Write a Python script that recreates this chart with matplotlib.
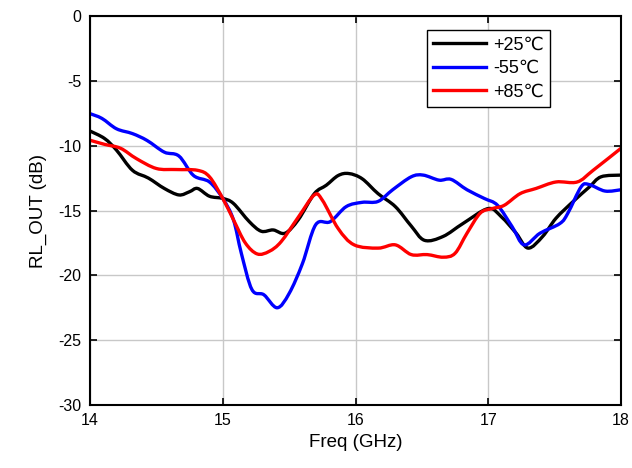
import matplotlib
matplotlib.use('Agg')
import matplotlib.pyplot as plt
from matplotlib.path import Path
from matplotlib.patches import PathPatch
from matplotlib.lines import Line2D
import numpy as np

plt.rcParams['font.family'] = ['Liberation Sans', 'DejaVu Sans']
plt.rcParams['axes.unicode_minus'] = False

# RL_OUT sweeps vs frequency at three temperatures
freq_25 = [14.0, 14.11, 14.2, 14.32, 14.44, 14.56, 14.67, 14.75, 14.81, 14.9, 15.0, 15.08,
           15.2, 15.29, 15.38, 15.47, 15.57, 15.69, 15.78, 15.87, 15.95, 16.05, 16.17,
           16.3, 16.42, 16.52, 16.66, 16.81, 17.0, 17.1, 17.21, 17.3, 17.41, 17.51,
           17.64, 17.76, 17.85, 18.0]
rl_25 = [-8.87, -9.45, -10.35, -11.9, -12.5, -13.3, -13.8, -13.55, -13.3, -13.9, -14.07,
         -14.45, -15.86, -16.6, -16.5, -16.75, -15.7, -13.7, -13.05, -12.3, -12.15, -12.55,
         -13.7, -14.7, -16.2, -17.3, -17.0, -16.0, -14.85, -15.5, -16.75, -17.9, -17.0,
         -15.6, -14.3, -13.2, -12.4, -12.27]

freq_m55 = [14.0, 14.09, 14.2, 14.32, 14.43, 14.56, 14.67, 14.78, 14.9, 15.0, 15.08, 15.14,
            15.22, 15.31, 15.41, 15.5, 15.6, 15.7, 15.81, 15.93, 16.05, 16.17, 16.28,
            16.42, 16.51, 16.63, 16.72, 16.84, 16.97, 17.07, 17.18, 17.27, 17.39, 17.54,
            17.6, 17.7, 17.76, 17.88, 18.0]
rl_m55 = [-7.53, -7.9, -8.7, -9.07, -9.6, -10.5, -10.8, -12.3, -12.8, -14.07, -15.7, -18.3,
          -21.1, -21.5, -22.5, -21.4, -19.1, -16.1, -15.86, -14.7, -14.37, -14.3, -13.4,
          -12.4, -12.27, -12.66, -12.6, -13.4, -14.07, -14.6, -16.25, -17.65, -16.75,
          -16.0, -15.2, -13.17, -13.0, -13.5, -13.4]

freq_85 = [14.0, 14.11, 14.23, 14.35, 14.5, 14.65, 14.81, 14.9, 15.0, 15.08, 15.17, 15.26,
           15.35, 15.44, 15.57, 15.69, 15.75, 15.87, 15.99, 16.17, 16.3, 16.42, 16.54,
           16.66, 16.75, 16.84, 16.94, 17.03, 17.12, 17.24, 17.36, 17.51, 17.67, 17.79, 18.0]
rl_85 = [-9.58, -9.9, -10.2, -11.0, -11.76, -11.84, -11.9, -12.4, -14.07, -15.7, -17.5,
         -18.35, -18.15, -17.4, -15.5, -13.8, -14.2, -16.4, -17.65, -17.9, -17.65, -18.4,
         -18.4, -18.6, -18.3, -16.75, -15.2, -14.85, -14.6, -13.7, -13.3, -12.8, -12.8,
         -11.9, -10.2]


def smooth_path(x, y):
    # Catmull-Rom through the points, drawn as cubic Bezier segments
    p = np.column_stack([x, y])
    ext = np.vstack([p[0], p, p[-1]])
    verts = [p[0]]
    codes = [Path.MOVETO]
    for i in range(len(p) - 1):
        p0, p1, p2, p3 = ext[i], ext[i + 1], ext[i + 2], ext[i + 3]
        verts += [p1 + (p2 - p0) / 6, p2 - (p3 - p1) / 6, p2]
        codes += [Path.CURVE4] * 3
    return Path(verts, codes)


fig = plt.figure(figsize=(6.32, 4.68), dpi=100)
ax = fig.add_axes([0.1424, 0.1346, 0.8402, 0.8312])

series = [(freq_25, rl_25, 'black', '+25\u2103'),
          (freq_m55, rl_m55, '#0000ff', '-55\u2103'),
          (freq_85, rl_85, '#ff0000', '+85\u2103')]
handles = []
for fx, fy, c, lab in series:
    ax.add_patch(PathPatch(smooth_path(fx, fy), fill=False, edgecolor=c, lw=2.4,
                           joinstyle='round', capstyle='round'))
    handles.append(Line2D([], [], color=c, lw=2.4, label=lab))

ax.set_xlim(14, 18)
ax.set_ylim(-30, 0)
ax.set_xticks([14, 15, 16, 17, 18])
ax.set_yticks([-30, -25, -20, -15, -10, -5, 0])
ax.grid(True, color='#c8c8c8', lw=1)
ax.set_axisbelow(True)
ax.tick_params(direction='in', length=5, width=1.2, top=True, right=True,
               labelsize=11.5, pad=6)
for s in ax.spines.values():
    s.set_linewidth(1.5)

ax.set_xlabel('Freq (GHz)', fontsize=13.5, labelpad=4)
ax.set_ylabel('RL_OUT (dB)', fontsize=13.5, labelpad=8)

leg = ax.legend(handles=handles, loc='upper right', bbox_to_anchor=(0.866, 0.963),
                fontsize=13, frameon=True, fancybox=False, edgecolor='black',
                framealpha=1, handlelength=2.9, handletextpad=0.4, borderpad=0.35,
                labelspacing=0.35, borderaxespad=0)
leg.get_frame().set_linewidth(1.0)

fig.savefig('out.png', dpi=100)
